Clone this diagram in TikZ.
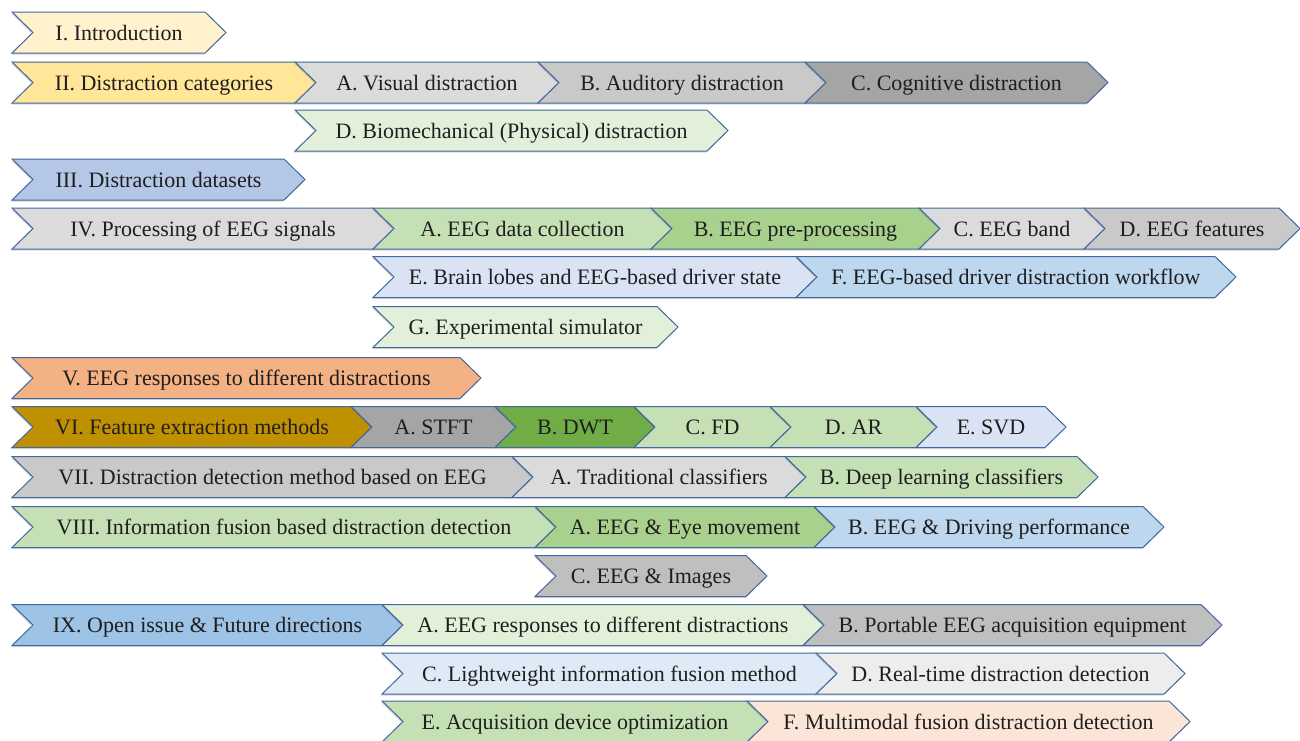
\documentclass[tikz,border=0pt]{standalone}
\usepackage{fontspec}
\setmainfont{LiberationSerif}[Extension=.ttf, UprightFont=*-Regular, BoldFont=*-Bold, ItalicFont=*-Italic, BoldItalicFont=*-BoldItalic]
\usetikzlibrary{shadows}

\definecolor{edge}{HTML}{41689F}
\definecolor{ink}{HTML}{1E1E1E}
\definecolor{yellowA}{HTML}{FFF2CC}
\definecolor{yellowB}{HTML}{FFE699}
\definecolor{grayA}{HTML}{EDEDED}
\definecolor{grayB}{HTML}{DBDBDB}
\definecolor{grayC}{HTML}{C9C9C9}
\definecolor{grayD}{HTML}{BFBFBF}
\definecolor{grayE}{HTML}{A5A5A5}
\definecolor{greenA}{HTML}{E2F0D9}
\definecolor{greenB}{HTML}{C5E0B4}
\definecolor{greenC}{HTML}{A9D18E}
\definecolor{greenD}{HTML}{70AD47}
\definecolor{blueA}{HTML}{DEEBF7}
\definecolor{blueB}{HTML}{DAE3F3}
\definecolor{blueC}{HTML}{BDD7EE}
\definecolor{blueD}{HTML}{B4C7E7}
\definecolor{blueE}{HTML}{9DC3E6}
\definecolor{orangeA}{HTML}{FBE5D6}
\definecolor{orangeB}{HTML}{F4B183}
\definecolor{gold}{HTML}{BF9000}

\tikzstyle{chevron} = [draw=edge, line width=1pt, line join=miter,
    drop shadow={shadow xshift=-0.8pt, shadow yshift=-1.5pt, opacity=0.25, fill=black!60}]
\tikzstyle{chevtext} = [font=\rmfamily\fontsize{22}{25}\selectfont, text=ink, inner sep=0pt, anchor=base]

% name, left edge, body end, row centre, fill, text
\newcommand{\chevbox}[6]{%
  \draw[chevron, fill=#5] (#2,#4-20.5) -- (#3,#4-20.5) -- (#3+21,#4)
      -- (#3,#4+20.5) -- (#2,#4+20.5) -- (#2+21,#4) -- cycle;
  \node[chevtext] (#1) at ({(#2+#3+21)/2},#4+7.5) {#6};
}

\begin{document}
\begin{tikzpicture}[x=1pt, y=-1pt]
\useasboundingbox[fill=white] (0,0) rectangle (1300,740);

% I
\chevbox{intro}{12}{205}{32.5}{yellowA}{I. Introduction}
% II
\chevbox{categories}{12}{295}{82.5}{yellowB}{II. Distraction categories}
\chevbox{visual}{295}{538}{82.5}{grayB}{A. Visual distraction}
\chevbox{auditory}{538}{805}{82.5}{grayC}{B. Auditory distraction}
\chevbox{cognitive}{805}{1087}{82.5}{grayE}{C. Cognitive distraction}
\chevbox{physical}{295}{707}{130.5}{greenA}{D. Biomechanical (Physical) distraction}
% III
\chevbox{datasets}{12}{284}{179.5}{blueD}{III. Distraction datasets}
% IV
\chevbox{processing}{12}{373}{228.5}{grayB}{IV. Processing of EEG signals}
\chevbox{collection}{373}{651}{228.5}{greenB}{A. EEG data collection}
\chevbox{preproc}{651}{919}{228.5}{greenC}{B. EEG pre-processing}
\chevbox{band}{919}{1084}{228.5}{grayB}{C. EEG band}
\chevbox{features}{1084}{1279}{228.5}{grayC}{D. EEG features}
\chevbox{lobes}{373}{796}{277}{blueB}{E. Brain lobes and EEG-based driver state}
\chevbox{workflow}{796}{1215}{277}{blueC}{F. EEG-based driver distraction workflow}
\chevbox{simulator}{373}{657}{327}{greenA}{G. Experimental simulator}
% V
\chevbox{responses}{12}{460}{378}{orangeB}{V. EEG responses to different distractions}
% VI
\chevbox{extraction}{12}{351}{427}{gold}{VI. Feature extraction methods}
\chevbox{stft}{351}{495}{427}{grayE}{A. STFT}
\chevbox{dwt}{495}{634}{427}{greenD}{B. DWT}
\chevbox{fd}{634}{770}{427}{greenB}{C. FD}
\chevbox{ar}{770}{916}{427}{greenB}{D. AR}
\chevbox{svd}{916}{1045}{427}{blueB}{E. SVD}
% VII
\chevbox{detection}{12}{512}{477}{grayC}{VII. Distraction detection method based on EEG}
\chevbox{traditional}{512}{785}{477}{grayB}{A. Traditional classifiers}
\chevbox{deep}{785}{1077}{477}{greenB}{B. Deep learning classifiers}
% VIII
\chevbox{fusion}{12}{535}{527}{greenB}{VIII. Information fusion based distraction detection}
\chevbox{eye}{535}{814}{527}{greenC}{A. EEG \& Eye movement}
\chevbox{driving}{814}{1143}{527}{blueC}{B. EEG \& Driving performance}
\chevbox{images}{535}{746}{576}{grayD}{C. EEG \& Images}
% IX
\chevbox{future}{12}{382}{625}{blueE}{IX. Open issue \& Future directions}
\chevbox{respfuture}{382}{803}{625}{greenA}{A. EEG responses to different distractions}
\chevbox{portable}{803}{1201}{625}{grayD}{B. Portable EEG acquisition equipment}
\chevbox{lightweight}{382}{816}{673.5}{blueA}{C. Lightweight information fusion method}
\chevbox{realtime}{816}{1164}{673.5}{grayA}{D. Real-time distraction detection}
\chevbox{acquisition}{382}{747}{721.5}{greenB}{E. Acquisition device optimization}
\chevbox{multimodal}{747}{1169}{721.5}{orangeA}{F. Multimodal fusion distraction detection}
\end{tikzpicture}
\end{document}
